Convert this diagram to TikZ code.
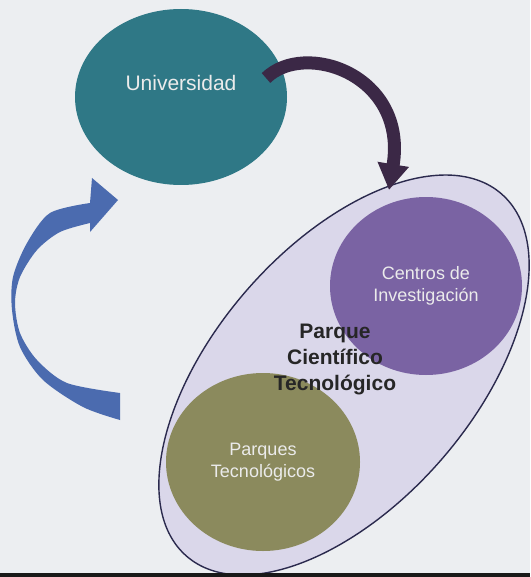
\documentclass[tikz,border=0pt]{standalone}
\usepackage{fontspec}
\setmainfont{Liberation Sans}
\usetikzlibrary{arrows.meta, shapes.geometric}
\definecolor{cback}{HTML}{ECEEF1}
\definecolor{cteal}{HTML}{2F7886}
\definecolor{cplum}{HTML}{3B2846}
\definecolor{cblue}{HTML}{4B6BAF}
\definecolor{clav}{HTML}{DAD7EA}
\definecolor{cnavy}{HTML}{2B2A4E}
\definecolor{cviolet}{HTML}{7A63A3}
\definecolor{colive}{HTML}{8B8A5D}
\tikzset{
  every picture/.style={x=1pt, y=-1pt},
  blob/.style={ellipse, fill=#1, text=white!92!black, align=center, inner sep=0pt, font=\fontsize{18}{22}\selectfont},
  darrow/.style={-{Triangle[width=30pt, length=26pt]}, draw=cplum, line width=13pt},
  title/.style={font=\fontsize{21}{26}\selectfont\bfseries, align=center, text=black!85},
}

\begin{document}
\begin{tikzpicture}
  \fill[cback] (0,0) rectangle (530,577);
  \useasboundingbox (0,0) rectangle (530,577);
  \node[ellipse, draw=cnavy, fill=clav, line width=1.4pt, minimum width=480pt, minimum height=258pt, rotate=49] (parque) at (344,375) {};
  \node[blob=cteal, minimum width=212pt, minimum height=176pt, font=\fontsize{21}{25}\selectfont, text height=15pt, text depth=27pt] (uni) at (181,97) {Universidad};
  \node[blob=cviolet, minimum width=192pt, minimum height=178pt] (centros) at (426,286) {Centros de\\Investigación};
  \node[blob=colive, minimum width=194pt, minimum height=178pt] (parques) at (263,462) {Parques\\Tecnológicos};
  \node[title] (ptitle) at (335,359) {Parque\\Científico\\Tecnológico};
  \coordinate (dstart) at (266,78);
  \coordinate (dend) at (389,190);
  \draw[darrow] (dstart) .. controls (305,40) and (408,75) .. (dend);
  \coordinate (btail) at (120,393);
  \coordinate (btip) at (118,200);
  \fill[cblue] (btail) -- plot[smooth] coordinates {(120,393) (67,383) (37,360) (20,333) (15,303) (20,277) (37,250) (60,232) (90,223)} -- (90,232) -- (btip) -- (92,178) -- plot[smooth] coordinates {(90,203) (50,213) (27,243) (13,277) (12,310) (20,347) (43,380) (83,407) (120,420)} -- cycle;
  \fill[black!90] (0,573) rectangle (530,577);
\end{tikzpicture}
\end{document}
